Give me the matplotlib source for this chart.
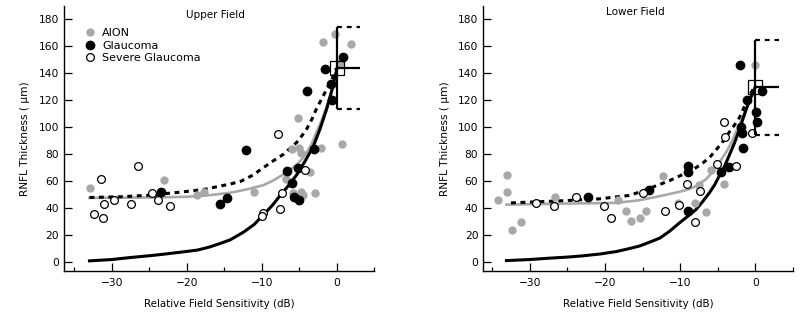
import matplotlib
matplotlib.use("Agg")
import matplotlib.pyplot as plt
from matplotlib.lines import Line2D

# ---- Upper field data (dB, um) ----
upper_aion_x = [-32.9, -23.8, -23.0, -18.7, -17.7, -11.0, -6.7, -5.9, -5.1, -5.0, -4.8,
                -5.8, -4.8, -4.5, -3.5, -2.9, -2.1, -1.8, -0.2, 0.4, 0.75, 1.9]
upper_aion_y = [55, 46, 61, 50, 52, 52, 62, 84, 107, 85, 81,
                51.5, 52, 49.5, 67, 51, 85, 163, 169, 148, 88, 162]
upper_glc_x = [-23.4, -15.6, -14.6, -12.1, -6.6, -5.9, -5.7, -5.0, -5.2, -3.0, -4.0,
               -1.6, -0.7, -0.6, 0.8]
upper_glc_y = [52, 43, 47.5, 83, 68, 59, 48.5, 46.5, 70, 84, 127,
               143.5, 132.5, 120, 152]
upper_sev_x = [-32.4, -31.5, -31.2, -31.0, -29.7, -27.5, -26.5, -24.7, -23.9, -22.2,
               -9.8, -9.9, -7.8, -7.6, -7.3, -4.2]
upper_sev_y = [36, 62, 33, 43, 46.5, 43, 71, 51, 46, 42,
               36.5, 34.5, 95, 39.5, 51, 68.5]

upper_gray_fit_x = [-33, -25, -20, -17, -14.2, -12, -9.8, -8.5, -7.1, -6.2, -5.3, -4.6, -4.0,
                    -3.3, -2.7, -2.0, -1.3, -0.7, -0.2, 0]
upper_gray_fit_y = [47.7, 48, 48.5, 49.7, 51.5, 54, 57.1, 60.5, 65.1, 68.5, 72.6, 76.5, 81.3,
                    88, 96.2, 105, 116, 126, 136, 141]
upper_dash_fit_x = [-33, -29, -25, -20.8, -17.7, -14.2, -12.8, -11.2, -9.8, -8.5, -7.1, -6.2,
                    -5.3, -4.6, -4.0, -3.3, -2.7, -2.0, -1.3, -0.6, 0]
upper_dash_fit_y = [48, 48.5, 49.7, 52, 54, 58, 60, 64.5, 70, 75, 80, 84.5,
                    89, 94, 98.7, 106, 113.6, 121, 128.5, 136, 144]
upper_black_fit_x = [-33, -30, -27.5, -25, -23, -20, -18.6, -17, -15.5, -14.2, -12.4, -11,
                     -9.8, -8.6, -7.6, -6.4, -5.3, -4.2, -3.1, -2.2, -1.3, -0.6, -0.2, 0]
upper_black_fit_y = [1, 2, 3.5, 4.8, 6, 8, 9, 11.2, 14, 16.6, 22.4, 28,
                     35, 42, 49, 57, 65, 75, 86, 99, 114, 128, 138, 142]

upper_mean, upper_lo, upper_hi = 144, 113.6, 174.5

# ---- Lower field data ----
lower_aion_x = [-34.2, -33.1, -33.0, -32.4, -31.2, -26.6, -18.3, -17.2, -16.5, -15.3, -14.5,
                -12.3, -10.3, -8.0, -7.5, -6.5, -5.9, -4.1, -0.1]
lower_aion_y = [46.5, 65, 52, 24, 29.6, 48, 46.5, 38.3, 30.3, 32.8, 38.3,
                64, 44, 44, 57, 37.3, 68.3, 57.7, 146]
lower_glc_x = [-22.2, -14.2, -8.9, -8.9, -9.0, -4.6, -3.5, -1.7, -1.8, -1.9, -1.15,
               -2.1, 0.1, 0.2, 0.9]
lower_glc_y = [48, 53.5, 71, 67, 38, 67, 70.5, 84.5, 96, 100.5, 120.5,
               146, 111.5, 103.7, 127.3]
lower_sev_x = [-29.2, -26.8, -23.8, -20.1, -19.2, -14.9, -12.0, -10.2, -9.1, -8.0, -7.3,
               -5.1, -4.1, -4.0, -2.6, -0.4]
lower_sev_y = [44, 42, 48.2, 41.5, 33, 51.7, 38.3, 42.7, 57.7, 29.6, 52.7,
               72.6, 103.7, 93.2, 71.3, 95.7]

lower_gray_fit_x = [-33.1, -25.2, -18.5, -15.4, -12.7, -10.1, -8.9, -7.9, -6.6, -5.9, -5.3,
                    -4.6, -3.9, -3.2, -2.6, -1.9, -1.2, -0.4, 0]
lower_gray_fit_y = [42.7, 43.5, 44, 46, 49, 52.2, 54, 56.4, 61.4, 65.5, 70.1,
                    75.5, 81.3, 88.5, 96.2, 104.5, 113.6, 126, 130]
lower_dash_fit_x = [-32.5, -25.2, -20.7, -16.8, -15.4, -12.7, -11.4, -10.1, -8.9, -7.9, -7.0,
                    -6.1, -5.4, -4.8, -4.1, -3.5, -2.8, -2.1, -1.2, -0.4, 0]
lower_dash_fit_y = [44, 45.7, 47, 49.5, 52, 57.7, 60.5, 63.9, 67, 70.1, 73.5,
                    77.6, 82, 86.2, 91, 96.2, 101.5, 107.4, 118.6, 127.3, 131]
lower_black_fit_x = [-33.1, -30, -27.4, -25, -23, -20.5, -18.5, -17, -15.4, -14, -12.7, -11.4,
                     -10.1, -9, -7.9, -7, -6.1, -5.4, -4.8, -4.1, -3.5, -2.8, -2.1, -1.2,
                     -0.6, -0.1, 0]
lower_black_fit_y = [1.2, 2, 3, 3.8, 4.7, 6.2, 7.9, 9.8, 12, 15, 17.9, 23,
                     29.1, 34, 39, 45, 51.5, 57.5, 63.9, 71, 78.8, 88, 98.7, 113.6,
                     122, 128.5, 130]

lower_mean, lower_lo, lower_hi = 130.3, 94.5, 165

GRAY = "#a8a8a8"
plt.rcParams["font.family"] = "DejaVu Sans"


def draw_panel(ax, title, title_y, aion, glc, sev, gfit, dfit, bfit, mean, lo, hi, xlim):
    ax.plot(*gfit, color=GRAY, lw=1.9, solid_joinstyle="round", zorder=2)
    ax.plot(*dfit, color="black", lw=2.2, dashes=(1.6, 1.5), zorder=2)
    ax.plot(*bfit, color="black", lw=2.2, solid_joinstyle="round", zorder=2)

    ax.plot(*aion, "o", ms=6, color=GRAY, mec="none", zorder=3)
    ax.plot(*glc, "o", ms=6, color="black", mec="black", zorder=4)
    ax.plot(*sev, "o", ms=5.6, mfc="white", mec="black", mew=0.9, zorder=5)

    # normal-limits bar
    ax.vlines(0, lo, hi, color="black", lw=1.6, zorder=6)
    ax.hlines(mean, 0, 3.1, color="black", lw=1.6, zorder=6)
    ax.hlines([lo, hi], 0, 3.1, color="black", lw=1.6, linestyles=(0, (2.2, 2.2)), zorder=6)
    ax.plot(0, mean, "s", ms=9.5, mfc="none", mec="black", mew=0.9, zorder=7)

    ax.set_xlim(*xlim)
    ax.set_ylim(-6.3, 190)
    ax.set_xticks([-30, -20, -10, 0])
    ax.set_xticks([-35, -25, -15, -5, 5], minor=True)
    ax.set_yticks(range(0, 181, 20))
    for s in ("top", "right"):
        ax.spines[s].set_visible(False)
    for s in ("left", "bottom"):
        ax.spines[s].set_linewidth(1.0)
    ax.tick_params(which="major", direction="in", length=5.5, width=0.9, labelsize=7.7, pad=3.5)
    ax.tick_params(which="minor", direction="in", length=2.6, width=0.9)
    ax.tick_params(axis="x", which="major", pad=5)
    ax.set_xlabel("Relative Field Sensitivity (dB)", fontsize=7.4, labelpad=8)
    ax.set_ylabel("RNFL Thickness ( \u03bcm)", fontsize=7.6, labelpad=6)
    ax.text(0.49, title_y, title, transform=ax.transAxes, ha="center", va="center", fontsize=7.5)


fig = plt.figure(figsize=(8, 3.18), dpi=100)
ax1 = fig.add_axes([0.08, 0.1487, 0.3875, 0.8324])
ax2 = fig.add_axes([0.604, 0.1487, 0.3871, 0.8324])

draw_panel(ax1, "Upper Field", 0.966,
           (upper_aion_x, upper_aion_y), (upper_glc_x, upper_glc_y), (upper_sev_x, upper_sev_y),
           (upper_gray_fit_x, upper_gray_fit_y), (upper_dash_fit_x, upper_dash_fit_y),
           (upper_black_fit_x, upper_black_fit_y),
           upper_mean, upper_lo, upper_hi, (-36.4, 5.0))
draw_panel(ax2, "Lower Field", 0.976,
           (lower_aion_x, lower_aion_y), (lower_glc_x, lower_glc_y), (lower_sev_x, lower_sev_y),
           (lower_gray_fit_x, lower_gray_fit_y), (lower_dash_fit_x, lower_dash_fit_y),
           (lower_black_fit_x, lower_black_fit_y),
           lower_mean, lower_lo, lower_hi, (-36.2, 4.9))

handles = [
    Line2D([], [], ls="none", marker="o", ms=6, color=GRAY, mec="none"),
    Line2D([], [], ls="none", marker="o", ms=6, color="black"),
    Line2D([], [], ls="none", marker="o", ms=5.6, mfc="white", mec="black", mew=0.9),
]
ax1.legend(handles, ["AION", "Glaucoma", "Severe Glaucoma"], loc="upper left",
           bbox_to_anchor=(0.04, 0.945), frameon=False, fontsize=8,
           handlelength=1.0, handletextpad=0.6, labelspacing=0.2, borderpad=0.2)

fig.savefig("out.png", dpi=100)
